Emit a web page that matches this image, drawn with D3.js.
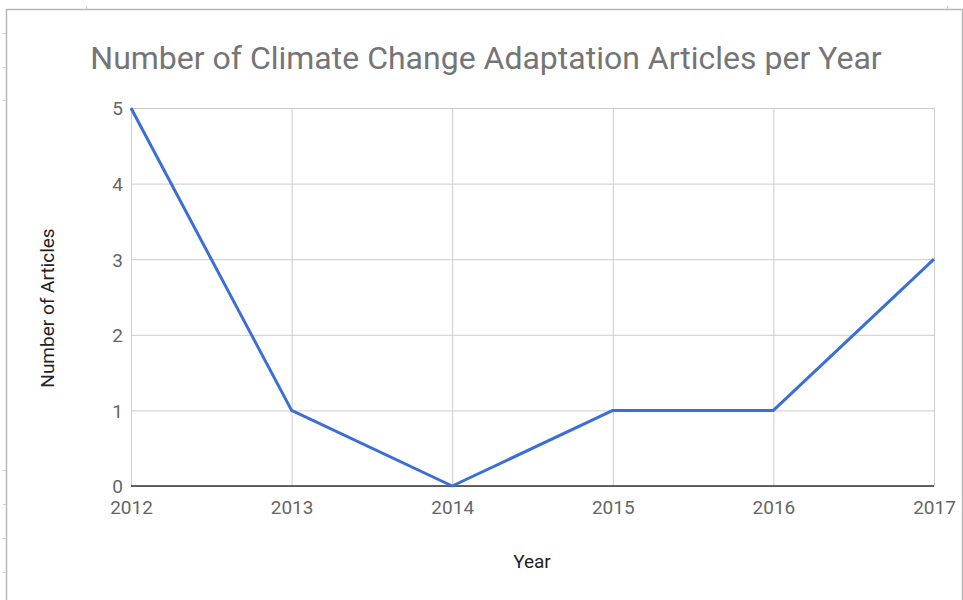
<!DOCTYPE html>
<html>
<head>
<meta charset="utf-8">
<script src="https://cdn.jsdelivr.net/npm/d3@7"></script>
<style>
  html, body { margin: 0; padding: 0; background: #fff; }
  svg { display: block; font-family: Roboto, "Noto Sans", Arial, sans-serif; }
</style>
</head>
<body>
<svg id="chart" width="963" height="600"></svg>
<script>
// Articles on climate change adaptation, counted per publication year
const years = [2012, 2013, 2014, 2015, 2016, 2017];
const articles = [5, 1, 0, 1, 1, 3];
const yTicks = [0, 1, 2, 3, 4, 5];

const chartTitle = "Number of Climate Change Adaptation Articles per Year";
const xTitle = "Year";
const yTitle = "Number of Articles";

const svg = d3.select("#chart");
const W = 963, H = 600;
const plot = { left: 131, right: 934, top: 108, bottom: 486 };

// Sheet frame around the embedded chart
svg.append("rect").attr("x", 0).attr("y", 0).attr("width", W).attr("height", H).attr("fill", "#fff");
svg.append("path")
  .attr("d", `M6.5,${H} V9.5 H962.5 V${H}`)
  .attr("fill", "none").attr("stroke", "#b7b7b7").attr("stroke-width", 1.5);
// small row/column marks along the frame edge
[33, 67, 100, 470, 504, 538, 572].forEach(y => {
  svg.append("line").attr("x1", 3).attr("x2", 6).attr("y1", y + 0.5).attr("y2", y + 0.5)
    .attr("stroke", "#d0d0d0");
});
[86, 947].forEach(x => {
  svg.append("line").attr("x1", x + 0.5).attr("x2", x + 0.5).attr("y1", 6).attr("y2", 9)
    .attr("stroke", "#d0d0d0");
});

const x = d3.scalePoint().domain(years).range([plot.left, plot.right]);
const y = d3.scaleLinear().domain([0, 5]).range([plot.bottom, plot.top]);

// Horizontal gridlines + y tick labels
const yAxis = d3.axisLeft(y).tickValues(yTicks).tickSize(-(plot.right - plot.left)).tickPadding(8).tickFormat(d3.format("d"));
const gy = svg.append("g").attr("transform", `translate(${plot.left},0)`).call(yAxis);
gy.select(".domain").remove();
gy.selectAll(".tick line").attr("stroke", "#cccccc").attr("stroke-width", 1);
gy.selectAll(".tick text").attr("fill", "#666666").attr("font-size", 19).attr("dy", "0.36em")
  .attr("font-family", "Roboto, sans-serif");

// Vertical gridlines + x tick labels
const xAxis = d3.axisBottom(x).tickSize(-(plot.bottom - plot.top)).tickPadding(15);
const gx = svg.append("g").attr("transform", `translate(0,${plot.bottom})`).call(xAxis);
gx.select(".domain").remove();
gx.selectAll(".tick line").attr("stroke", "#cccccc").attr("stroke-width", 1);
gx.selectAll(".tick text").attr("fill", "#666666").attr("font-size", 19)
  .attr("font-family", "Roboto, sans-serif");

// Baseline at zero
svg.append("line")
  .attr("x1", plot.left).attr("x2", plot.right)
  .attr("y1", y(0)).attr("y2", y(0))
  .attr("stroke", "#333333").attr("stroke-width", 1.5);

// Data line
const line = d3.line().x((d, i) => x(years[i])).y(d => y(d));
svg.append("path")
  .datum(articles)
  .attr("d", line)
  .attr("fill", "none")
  .attr("stroke", "#3c6fd6")
  .attr("stroke-width", 3)
  .attr("stroke-linejoin", "round");

// Titles
svg.append("text")
  .attr("x", 486).attr("y", 69)
  .attr("text-anchor", "middle")
  .attr("font-size", 32).attr("fill", "#757575")
  .text(chartTitle);

svg.append("text")
  .attr("x", 532).attr("y", 568)
  .attr("text-anchor", "middle")
  .attr("font-size", 19).attr("fill", "#222222")
  .text(xTitle);

svg.append("text")
  .attr("transform", `translate(54,308) rotate(-90)`)
  .attr("text-anchor", "middle")
  .attr("font-size", 19).attr("fill", "#222222")
  .text(yTitle);
</script>
</body>
</html>
